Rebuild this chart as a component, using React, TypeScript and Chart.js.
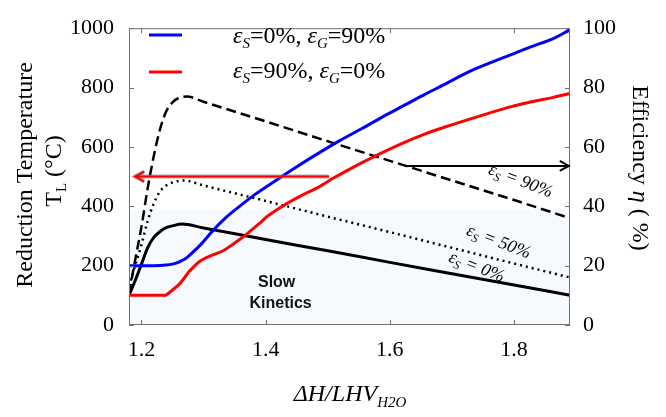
import React, { useEffect, useRef } from "react";
import { Chart, registerables } from "chart.js";

Chart.register(...registerables);

// ---- data ----
const xTicks = [1.2, 1.4, 1.6, 1.8];
const leftTicks = [0, 200, 400, 600, 800, 1000];
const rightTicks = [0, 20, 40, 60, 80, 100];

const blueX = [1.18, 1.2, 1.22, 1.24, 1.25, 1.26, 1.27, 1.28, 1.295, 1.315, 1.335, 1.357, 1.383, 1.417, 1.452, 1.486, 1.52, 1.555, 1.589, 1.623, 1.657, 1.692, 1.726, 1.76, 1.794, 1.828, 1.863, 1.89];
const blueY = [200, 200, 200, 202, 205, 212, 222, 240, 270, 318, 360, 398, 440, 488, 536, 580, 622, 662, 702, 740, 778, 815, 852, 882, 910, 938, 965, 995];

const redX = [1.18, 1.2, 1.22, 1.237, 1.25, 1.262, 1.277, 1.294, 1.3, 1.315, 1.333, 1.348, 1.362, 1.375, 1.39, 1.402, 1.418, 1.434, 1.458, 1.483, 1.51, 1.537, 1.56, 1.582, 1.62, 1.657, 1.69, 1.726, 1.76, 1.794, 1.828, 1.863, 1.89];
const redY = [100, 100, 100, 100, 118, 140, 180, 215, 222, 236, 252, 273, 294, 316, 342, 365, 388, 409, 437, 462, 496, 527, 552, 575, 612, 644, 668, 692, 714, 735, 752, 767, 780];

const eff90X = [1.18, 1.19, 1.2, 1.21, 1.22, 1.23, 1.24, 1.25, 1.26, 1.273, 1.3, 1.4, 1.5, 1.6, 1.7, 1.8, 1.89];
const eff90Y = [10.5, 22, 33, 46, 57, 66, 72, 75, 76.5, 77, 75.2, 68.6, 61.9, 55.3, 48.7, 42.1, 36];

const eff50X = [1.18, 1.19, 1.2, 1.21, 1.22, 1.23, 1.24, 1.25, 1.268, 1.3, 1.4, 1.5, 1.6, 1.7, 1.8, 1.89];
const eff50Y = [13, 20, 27, 35, 41, 45, 47, 48, 48.7, 47, 41.8, 36.5, 31.3, 26, 20.7, 16];

const eff0X = [1.18, 1.19, 1.2, 1.21, 1.22, 1.23, 1.24, 1.25, 1.265, 1.3, 1.4, 1.5, 1.6, 1.7, 1.8, 1.89];
const eff0Y = [10, 15, 20.5, 26, 29.5, 31.5, 32.8, 33.4, 34, 32.7, 28.8, 25, 21.1, 17.3, 13.5, 10];

const slowKineticsTop = 390; // °C
const redArrow = { y: 500, from: 1.502, to: 1.19 };
const blackArrow = { y: 53.6, from: 1.627, to: 1.888 };

const pts = (xs: number[], ys: number[]) => xs.map((x, i) => ({ x, y: ys[i] }));

const SERIF = '"Liberation Serif", "Times New Roman", serif';

type Seg = { t: string; f: string; dy?: number };
function drawRich(ctx: CanvasRenderingContext2D, segs: Seg[], x: number, y: number, angle = 0, align: "center" | "left" = "center", base = 0) {
  ctx.save();
  ctx.translate(x, y);
  ctx.rotate(angle);
  ctx.textBaseline = "alphabetic";
  ctx.textAlign = "left";
  ctx.fillStyle = "#000";
  let w = 0;
  for (const s of segs) { ctx.font = s.f; w += ctx.measureText(s.t).width; }
  let cx = align === "center" ? -w / 2 : 0;
  for (const s of segs) {
    ctx.font = s.f;
    ctx.fillText(s.t, cx, base + (s.dy || 0));
    cx += ctx.measureText(s.t).width;
  }
  ctx.restore();
}

function arrow(ctx: CanvasRenderingContext2D, x1: number, x2: number, y: number, color: string, shadow: boolean) {
  const dir = Math.sign(x2 - x1);
  ctx.save();
  ctx.lineCap = "butt";
  if (shadow) {
    ctx.strokeStyle = "rgba(120,120,120,0.6)";
    ctx.lineWidth = 4;
    ctx.beginPath(); ctx.moveTo(x1, y); ctx.lineTo(x2, y); ctx.stroke();
    ctx.beginPath(); ctx.moveTo(x2 - dir * 9, y - 5); ctx.lineTo(x2, y); ctx.lineTo(x2 - dir * 9, y + 5); ctx.stroke();
  }
  ctx.strokeStyle = color;
  ctx.lineWidth = 2;
  ctx.beginPath(); ctx.moveTo(x1, y); ctx.lineTo(x2, y); ctx.stroke();
  ctx.beginPath(); ctx.moveTo(x2 - dir * 9, y - 5); ctx.lineTo(x2, y); ctx.lineTo(x2 - dir * 9, y + 5); ctx.stroke();
  ctx.restore();
}

const decorPlugin = {
  id: "decor",
  beforeDatasetsDraw(chart: any) {
    const { ctx, chartArea: a, scales } = chart;
    const yT = scales.y.getPixelForValue(slowKineticsTop);
    ctx.save();
    ctx.fillStyle = "#f6f9fd";
    ctx.fillRect(a.left, yT, a.right - a.left, a.bottom - yT);
    ctx.restore();
    ctx.save();
    ctx.fillStyle = "#111";
    ctx.font = 'bold 16px "Liberation Sans", Arial, sans-serif';
    ctx.textAlign = "center";
    ctx.textBaseline = "middle";
    ctx.fillText("Slow", scales.x.getPixelForValue(1.4) + 11, 283);
    ctx.fillText("Kinetics", scales.x.getPixelForValue(1.4) + 15, 304);
    ctx.restore();
  },
  afterDatasetsDraw(chart: any) {
    const { ctx, chartArea: a, scales } = chart;
    const xs = scales.x, yl = scales.y, yr = scales.y1;
    ctx.save();
    ctx.strokeStyle = "#707070";
    ctx.lineWidth = 1;
    ctx.strokeRect(a.left + 0.5, a.top + 0.5, a.right - a.left - 1, a.bottom - a.top - 1);
    ctx.beginPath();
    for (const v of xTicks) {
      const p = Math.round(xs.getPixelForValue(v)) + 0.5;
      ctx.moveTo(p, a.bottom); ctx.lineTo(p, a.bottom - 5);
      ctx.moveTo(p, a.top); ctx.lineTo(p, a.top + 5);
    }
    for (const v of leftTicks) {
      const p = Math.round(yl.getPixelForValue(v)) + 0.5;
      ctx.moveTo(a.left, p); ctx.lineTo(a.left + 5, p);
    }
    for (const v of rightTicks) {
      const p = Math.round(yr.getPixelForValue(v)) + 0.5;
      ctx.moveTo(a.right - 5, p); ctx.lineTo(a.right, p);
    }
    ctx.stroke();
    ctx.restore();

    arrow(ctx, xs.getPixelForValue(redArrow.from), xs.getPixelForValue(redArrow.to), yl.getPixelForValue(redArrow.y), "#ff0000", true);
    arrow(ctx, xs.getPixelForValue(blackArrow.from), xs.getPixelForValue(blackArrow.to), yr.getPixelForValue(blackArrow.y), "#000000", false);

    const lx1 = 149, lx2 = 182;
    ctx.save();
    ctx.lineWidth = 3;
    ctx.strokeStyle = "#0000ff";
    ctx.beginPath(); ctx.moveTo(lx1, 35); ctx.lineTo(lx2, 35); ctx.stroke();
    ctx.strokeStyle = "#ff0000";
    ctx.beginPath(); ctx.moveTo(lx1, 72); ctx.lineTo(lx2, 72); ctx.stroke();
    ctx.restore();
    const it24 = `italic 24px ${SERIF}`;
    const up24 = `24px ${SERIF}`;
    const it15 = `italic 15px ${SERIF}`;
    drawRich(ctx, [
      { t: "ε", f: it24 }, { t: "S", f: it15, dy: 5 }, { t: "=0%, ", f: up24 },
      { t: "ε", f: it24 }, { t: "G", f: it15, dy: 5 }, { t: "=90%", f: up24 },
    ], 233, 43, 0, "left");
    drawRich(ctx, [
      { t: "ε", f: it24 }, { t: "S", f: it15, dy: 5 }, { t: "=90%, ", f: up24 },
      { t: "ε", f: it24 }, { t: "G", f: it15, dy: 5 }, { t: "=0%", f: up24 },
    ], 233, 78, 0, "left");

    const it18 = `italic 18px ${SERIF}`;
    const it12 = `italic 12px ${SERIF}`;
    const ang = (21 * Math.PI) / 180;
    const lab = (v: string): Seg[] => [{ t: "ε", f: it18 }, { t: "S", f: it12, dy: 4 }, { t: " = " + v, f: it18 }];
    drawRich(ctx, lab("90%"), 521, 180, ang, "center", 6);
    drawRich(ctx, lab("50%"), 499, 241, ang, "center", 6);
    drawRich(ctx, lab("0%"), 477, 266, ang, "center", 6);

    drawRich(ctx, [{ t: "Reduction Temperature", f: up24 }], 24, 175, -Math.PI / 2, "center", 8);
    drawRich(ctx, [{ t: "T", f: up24 }, { t: "L", f: `15px ${SERIF}`, dy: 5 }, { t: " (°C)", f: up24 }], 53, 171, -Math.PI / 2, "center", 8);
    drawRich(ctx, [{ t: "Efficiency ", f: up24 }, { t: "η", f: it24 }, { t: " ( %)", f: up24 }], 641, 168, Math.PI / 2, "center", 8);
    drawRich(ctx, [{ t: "ΔH/LHV", f: it24 }, { t: "H2O", f: it15, dy: 6 }], 350, 401, 0, "center", 0);
  },
};

export default function App() {
  const ref = useRef<HTMLCanvasElement>(null);
  useEffect(() => {
    if (!ref.current) return;
    const tickFont = { family: SERIF, size: 22 };
    const line = (data: any, color: string, axis: string, dash: number[] = [], width = 3) => ({
      data, borderColor: color, backgroundColor: color, borderWidth: width, borderDash: dash,
      pointRadius: 0, yAxisID: axis, cubicInterpolationMode: "monotone" as const, fill: false,
    });
    const chart = new Chart(ref.current, {
      type: "line",
      data: {
        datasets: [
          line(pts(blueX, blueY), "#0000ff", "y"),
          line(pts(redX, redY), "#ff0000", "y"),
          line(pts(eff90X, eff90Y), "#000000", "y1", [10, 5], 2.5),
          line(pts(eff50X, eff50Y), "#000000", "y1", [2, 4], 2.5),
          line(pts(eff0X, eff0Y), "#000000", "y1", [], 3),
        ],
      },
      options: {
        animation: false,
        responsive: false,
        events: [],
        layout: { padding: { top: 15, left: 0, right: 0, bottom: 0 } },
        plugins: { legend: { display: false }, tooltip: { enabled: false } },
        scales: {
          x: {
            type: "linear", min: 1.18, max: 1.89,
            grid: { display: false, drawTicks: false },
            border: { display: false },
            afterBuildTicks: (s: any) => { s.ticks = xTicks.map((v) => ({ value: v })); },
            afterFit: (s: any) => { s.height = 92; },
            ticks: { font: tickFont, color: "#000", padding: 12, maxRotation: 0, callback: (v: any) => Number(v).toFixed(1) },
          },
          y: {
            position: "left", min: 0, max: 1000,
            grid: { display: false, drawTicks: false },
            border: { display: false },
            afterBuildTicks: (s: any) => { s.ticks = leftTicks.map((v) => ({ value: v })); },
            afterFit: (s: any) => { s.width = 129; },
            ticks: { font: tickFont, color: "#000", padding: 15, callback: (v: any) => String(v) },
          },
          y1: {
            position: "right", min: 0, max: 100,
            grid: { display: false, drawTicks: false },
            border: { display: false },
            afterBuildTicks: (s: any) => { s.ticks = rightTicks.map((v) => ({ value: v })); },
            afterFit: (s: any) => { s.width = 96; },
            ticks: { font: tickFont, color: "#000", padding: 13, callback: (v: any) => String(v) },
          },
        },
      },
      plugins: [decorPlugin],
    });
    return () => chart.destroy();
  }, []);
  return (
    <div style={{ position: "fixed", left: 0, top: 0, width: 666, height: 417, background: "#fff" }}>
      <canvas ref={ref} width={666} height={417} style={{ display: "block" }} />
    </div>
  );
}
